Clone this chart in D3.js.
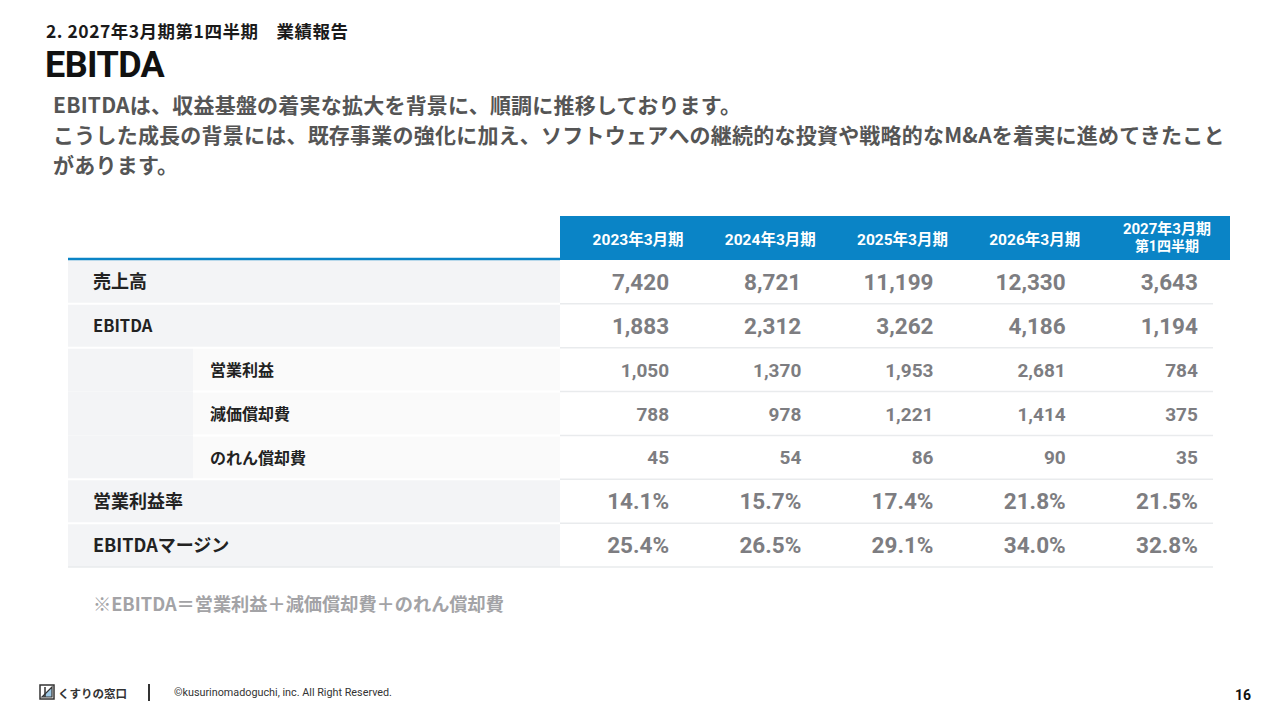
<!DOCTYPE html>
<html><head><meta charset="utf-8">
<script src="https://cdn.jsdelivr.net/npm/d3@7/dist/d3.min.js"></script>
<style>
html,body{margin:0;padding:0;background:#fff;}
svg{display:block;font-family:Roboto,"Noto Sans CJK JP",sans-serif;}
</style></head>
<body>
<svg id="c" width="1280" height="720"></svg>
<script>
// ---- data ----
const periods = ["2023年3月期", "2024年3月期", "2025年3月期", "2026年3月期", "2027年3月期|第1四半期"];
const rowLabels = ["売上高", "EBITDA", "営業利益", "減価償却費", "のれん償却費", "営業利益率", "EBITDAマージン"];
const sales = [7420, 8721, 11199, 12330, 3643];
const ebitda = [1883, 2312, 3262, 4186, 1194];
const operatingProfit = [1050, 1370, 1953, 2681, 784];
const depreciation = [788, 978, 1221, 1414, 375];
const goodwillAmort = [45, 54, 86, 90, 35];
const opMargin = [14.1, 15.7, 17.4, 21.8, 21.5];
const ebitdaMargin = [25.4, 26.5, 29.1, 34.0, 32.8];
const subRows = ["営業利益", "減価償却費", "のれん償却費"];

const section = "2. 2027年3月期第1四半期　業績報告";
const title = "EBITDA";
const bodyLines = [
  "EBITDAは、収益基盤の着実な拡大を背景に、順調に推移しております。",
  "こうした成長の背景には、既存事業の強化に加え、ソフトウェアへの継続的な投資や戦略的なM&Aを着実に進めてきたこと",
  "があります。"
];
const footnote = "※EBITDA＝営業利益＋減価償却費＋のれん償却費";
const copyright = "©kusurinomadoguchi, inc. All Right Reserved.";
const brand = "くすりの窓口";
const pageNo = "16";

const rowValues = [sales, ebitda, operatingProfit, depreciation, goodwillAmort, opMargin, ebitdaMargin];
const isPct = [false, false, false, false, false, true, true];

// ---- layout ----
const svg = d3.select("#c");
const tableLeft = 68, labelRight = 560, subLeft = 193, tableRight = 1230, lineRight = 1213;
const headTop = 216, headBottom = 260, tableBottom = 567;
const jp = "'Noto Sans CJK JP',sans-serif";

const x = d3.scaleBand().domain(periods).range([572, 1233]);
const y = d3.scaleBand().domain(rowLabels).range([headBottom, tableBottom]);
const fmtInt = d3.format(",");
const fmtPct = d3.format(".1f");

// header text
svg.append("text").attr("x", 46).attr("y", 38).attr("font-size", 17.5).attr("letter-spacing", 0.5).attr("font-weight", 700)
  .attr("fill", "#1a1a1a").attr("font-family", jp).text(section);
svg.append("text").attr("x", 45).attr("y", 77).attr("font-size", 36).attr("font-weight", 700)
  .attr("fill", "#111").attr("letter-spacing", -0.6).text(title);
svg.selectAll("text.body").data(bodyLines).join("text").attr("class", "body")
  .attr("x", 53).attr("y", (d, i) => 113 + i * 30)
  .attr("font-size", 21).attr("letter-spacing", 0.22).attr("font-weight", 700).attr("fill", "#555")
  .attr("font-family", jp).text(d => d);

// label column backgrounds
const g = svg.append("g");
rowLabels.forEach(r => {
  const sub = subRows.includes(r);
  g.append("rect").attr("x", tableLeft).attr("y", y(r)).attr("width", (sub ? subLeft : labelRight) - tableLeft)
    .attr("height", y.bandwidth()).attr("fill", "#f3f4f6");
  if (sub) {
    g.append("rect").attr("x", subLeft).attr("y", y(r)).attr("width", labelRight - subLeft)
      .attr("height", y.bandwidth()).attr("fill", "#fafafa");
  }
});
// separators
rowLabels.forEach((r, i) => {
  if (i === 0) return;
  const yy = y(r);
  const inGroup = subRows.includes(r) && r !== subRows[0];
  const lx = inGroup ? subLeft : tableLeft;
  g.append("line").attr("x1", lx).attr("x2", labelRight).attr("y1", yy).attr("y2", yy)
    .attr("stroke", "#fff").attr("stroke-width", 2);
  g.append("line").attr("x1", labelRight).attr("x2", lineRight).attr("y1", yy).attr("y2", yy)
    .attr("stroke", "#e9ebed").attr("stroke-width", 1.5);
});
g.append("line").attr("x1", tableLeft).attr("x2", lineRight).attr("y1", tableBottom).attr("y2", tableBottom)
  .attr("stroke", "#e9ebed").attr("stroke-width", 1.5);

// header band
svg.append("rect").attr("x", labelRight).attr("y", headTop).attr("width", tableRight - labelRight)
  .attr("height", headBottom - headTop).attr("fill", "#0a84c6");
svg.append("line").attr("x1", tableLeft).attr("x2", labelRight).attr("y1", headBottom - 1).attr("y2", headBottom - 1)
  .attr("stroke", "#0a84c6").attr("stroke-width", 2.5);
periods.forEach(p => {
  const parts = p.split("|");
  const cx = x(p) + x.bandwidth() / 2;
  const t = svg.append("text").attr("x", cx).attr("text-anchor", "middle")
    .attr("font-size", 15.5).attr("font-weight", 700).attr("fill", "#fff");
  if (parts.length === 1) {
    t.attr("y", headTop + 29).text(parts[0]);
  } else {
    t.attr("y", headTop + 18).attr("font-size", 15).text(parts[0]);
    t.append("tspan").attr("x", cx).attr("dy", 17).attr("font-size", 14).text(parts[1]);
  }
});

// row labels
rowLabels.forEach(r => {
  const sub = subRows.includes(r);
  svg.append("text").attr("x", sub ? 210 : 93).attr("y", y(r) + y.bandwidth() / 2 + 6.5)
    .attr("font-size", sub ? 16 : (r === "EBITDA" ? 16.5 : 18)).attr("font-weight", 700).attr("fill", "#222")
    .attr("font-family", jp).text(r);
});

// values
rowLabels.forEach((r, ri) => {
  const sub = subRows.includes(r);
  svg.selectAll(null).data(rowValues[ri]).join("text")
    .attr("x", (d, i) => x(periods[i]) + x.bandwidth() / 2 + 31)
    .attr("y", y(r) + y.bandwidth() / 2 + (sub ? 7 : 8))
    .attr("text-anchor", "end").attr("font-size", sub ? 19 : 22.5).attr("font-weight", 700)
    .attr("fill", "#7d7d81")
    .text(d => isPct[ri] ? fmtPct(d) + "%" : fmtInt(d));
});

// footnote
svg.append("text").attr("x", 93).attr("y", 611).attr("font-size", 18.2).attr("font-weight", 700)
  .attr("fill", "#a3a3a6").attr("font-family", jp).text(footnote);

// footer
const logo = svg.append("g").attr("transform", "translate(40,685)");
logo.append("rect").attr("width", 14).attr("height", 14).attr("fill", "#fff").attr("stroke", "#333").attr("stroke-width", 1.5);
logo.append("path").attr("d", "M2,12 L12,2 L12,12 Z").attr("fill", "#9ec9e6").attr("stroke", "#333").attr("stroke-width", 1.2);
logo.append("line").attr("x1", 5).attr("y1", 2).attr("x2", 5).attr("y2", 12).attr("stroke", "#333").attr("stroke-width", 1.5);
svg.append("text").attr("x", 58).attr("y", 698).attr("font-size", 11.5).attr("font-weight", 700)
  .attr("fill", "#333").attr("font-family", jp).text(brand);
svg.append("line").attr("x1", 149).attr("x2", 149).attr("y1", 684).attr("y2", 701).attr("stroke", "#333").attr("stroke-width", 2);
svg.append("text").attr("x", 174).attr("y", 696).attr("font-size", 10.8).attr("fill", "#333").text(copyright);
svg.append("text").attr("x", 1251).attr("y", 700).attr("text-anchor", "end").attr("font-size", 14).attr("font-weight", 700)
  .attr("fill", "#111").text(pageNo);
</script>
</body></html>
